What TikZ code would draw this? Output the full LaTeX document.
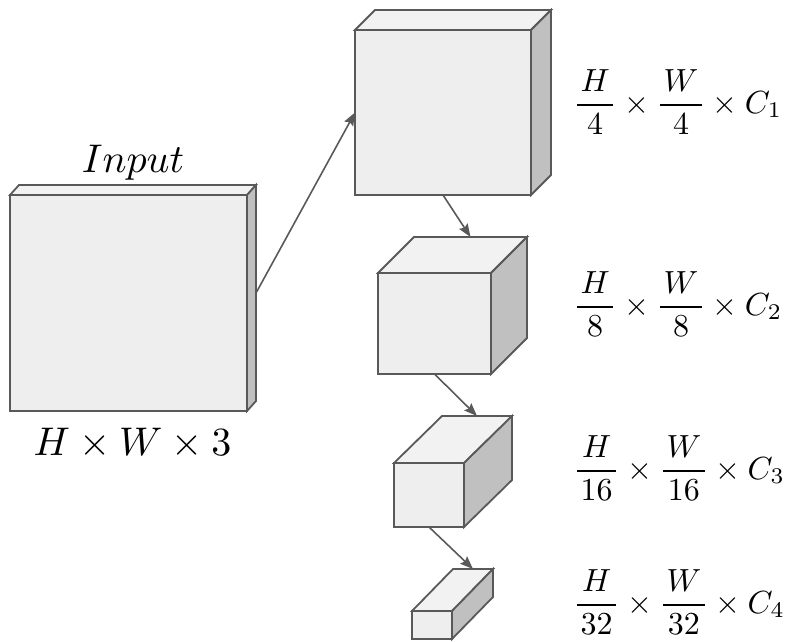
\documentclass[tikz,border=0pt]{standalone}
\usepackage{graphicx}
\usepackage{amsmath}
\usetikzlibrary{arrows.meta,calc}
\definecolor{edgegray}{HTML}{595959}
\definecolor{frontfill}{HTML}{EEEEEE}
\definecolor{topfill}{HTML}{F2F2F2}
\definecolor{sidefill}{HTML}{C0C0C0}
% name, cx, cy, w, h, dx, dy
\newcommand\boxcube[7]{%
  \node[frontface, minimum width=#4pt, minimum height=#5pt] (#1) at (#2,#3) {};
  \draw[face, fill=topfill] (#1.north west) -- ++(#6,-#7) coordinate (#1-bnw)
        -- ++(#4,0) coordinate (#1-bne) -- (#1.north east) -- cycle;
  \draw[face, fill=sidefill] (#1.north east) -- (#1-bne) -- ++(0,#5) -- (#1.south east) -- cycle;
  \coordinate (#1-top) at ($(#1-bnw)!0.5!(#1-bne)$);
  \coordinate (#1-side) at ($(#1-bne)+(0,#5/2)$);
}
\newcommand\dimtext[1]{\scalebox{3.2}{$#1$}}
\newcommand\bigtext[1]{\scalebox{4}{$#1$}}
\newcommand\pfrac[2]{\genfrac{}{}{0.55pt}{0}{\mkern2mu#1\mkern2mu}{\mkern2mu#2\mkern2mu}}
\begin{document}
\begin{tikzpicture}[x=1pt,y=-1pt,
  face/.style={draw=edgegray, line width=1.8pt},
  frontface/.style={rectangle, draw=edgegray, line width=1.8pt, fill=frontfill, inner sep=0pt, outer sep=0pt},
  conn/.style={draw=edgegray, line width=1.6pt, -{Stealth[length=13pt,width=10pt,inset=2pt]}},
  dimlabel/.style={anchor=base west, inner sep=0pt},
  biglabel/.style={anchor=base, inner sep=0pt}]
\useasboundingbox (0,0) rectangle (786,641);

\boxcube{in}{128.5}{303}{237}{216}{9}{10}
\boxcube{c1}{443}{112.5}{176}{165}{20}{20}
\boxcube{c2}{434.5}{323.5}{113}{101}{36}{36}
\boxcube{c3}{429}{495}{70}{64}{48}{47}
\boxcube{c4}{432}{625}{40}{28}{41}{42}

\node[biglabel] (inlab) at (133,172) {\bigtext{Input}};
\node[biglabel] (insize) at (132.5,455) {\bigtext{H\times W\times 3}};

\node[dimlabel] (l1) at (573,113) {\dimtext{\pfrac{H}{4}\times\pfrac{W}{4}\times C_1}};
\node[dimlabel] (l2) at (573,315) {\dimtext{\pfrac{H}{8}\times\pfrac{W}{8}\times C_2}};
\node[dimlabel] (l3) at (573,479) {\dimtext{\pfrac{H}{16}\times\pfrac{W}{16}\times C_3}};
\node[dimlabel] (l4) at (573,613) {\dimtext{\pfrac{H}{32}\times\pfrac{W}{32}\times C_4}};

\draw[conn] (in-side) -- (c1.west);
\draw[conn] (c1.south) -- (c2-top);
\draw[conn] (c2.south) -- (c3-top);
\draw[conn] (c3.south) -- (c4-top);
\end{tikzpicture}
\end{document}
